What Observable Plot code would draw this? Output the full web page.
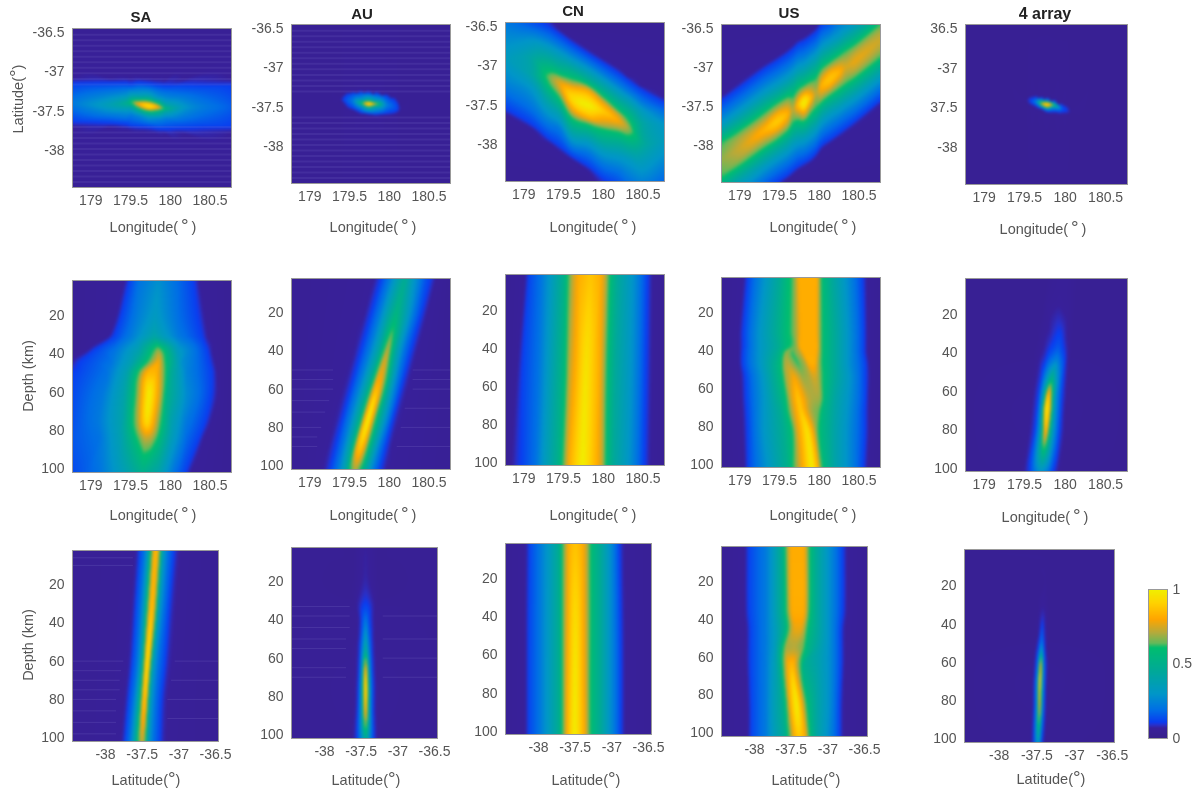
<!DOCTYPE html>
<html><head><meta charset="utf-8">
<script src="https://cdn.jsdelivr.net/npm/d3@7"></script>
<script src="https://cdn.jsdelivr.net/npm/@observablehq/plot@0.6"></script>
<style>
html,body{margin:0;background:#fff}
#fig{position:relative;width:1201px;height:794px;overflow:hidden;font-family:"Liberation Sans",sans-serif;color:#555;filter:blur(.45px)}
.t{position:absolute;transform:translate(-50%,-50%);white-space:nowrap;line-height:1}
.p{position:absolute}
</style></head><body><div id="fig"></div>
<script>
// colour bar
const cbStops=[0,.07,.09,.11,.19,.30,.46,.61,.64,.71,.80,.91,1];
const cbColors=["#37208a","#38209a","#2a30c8","#0a3cf0","#006ee6","#0096c8","#00aa96","#00be6e","#64b95a","#b4aa3c","#ffa500","#ffd200","#f0f000"];

// Every scan: [fixed coordinate, position, value, position, value, ...]
// Row 1: columns at a longitude, positions are latitudes
const saLatLon=[
[178.77,-37.09,.07,-37.16,.12,-37.4,.22,-37.62,.12,-37.69,.07],
[179.2,-37.09,.07,-37.16,.13,-37.3,.25,-37.42,.36,-37.52,.25,-37.63,.13,-37.7,.07],
[179.45,-37.09,.07,-37.16,.13,-37.3,.3,-37.4,.5,-37.5,.3,-37.65,.13,-37.72,.07],
[179.5,-37.1,.07,-37.17,.13,-37.3,.35,-37.39,.6,-37.45,.4,-37.55,.22,-37.67,.13,-37.73,.07],
[179.6,-37.09,.07,-37.16,.14,-37.3,.35,-37.37,.62,-37.4,.82,-37.44,.7,-37.48,.5,-37.56,.25,-37.68,.13,-37.74,.07],
[179.73,-37.1,.07,-37.17,.14,-37.3,.35,-37.37,.6,-37.4,.82,-37.43,.98,-37.47,.82,-37.5,.6,-37.58,.3,-37.69,.13,-37.75,.07],
[179.85,-37.11,.07,-37.18,.13,-37.33,.3,-37.41,.6,-37.44,.8,-37.47,.72,-37.5,.55,-37.6,.25,-37.71,.13,-37.77,.07],
[179.95,-37.11,.07,-37.18,.12,-37.35,.28,-37.44,.45,-37.47,.55,-37.5,.42,-37.6,.22,-37.72,.12,-37.78,.07],
[180.2,-37.1,.07,-37.16,.11,-37.45,.3,-37.72,.11,-37.78,.07],
[180.77,-37.11,.07,-37.17,.11,-37.45,.16,-37.7,.11,-37.76,.07]];
const auLatLon=[
[178.77],
[179.38,-37.39,.05,-37.4,.06,-37.41,.05],
[179.43,-37.35,.06,-37.37,.11,-37.4,.13,-37.43,.11,-37.45,.06],
[179.48,-37.31,.06,-37.33,.11,-37.41,.17,-37.49,.11,-37.51,.06],
[179.55,-37.3,.06,-37.32,.12,-37.42,.25,-37.52,.12,-37.54,.06],
[179.65,-37.29,.06,-37.31,.12,-37.4,.3,-37.45,.6,-37.49,.3,-37.57,.12,-37.59,.06],
[179.74,-37.29,.06,-37.32,.13,-37.41,.45,-37.44,.8,-37.46,1,-37.48,.8,-37.5,.5,-37.58,.13,-37.6,.06],
[179.83,-37.3,.06,-37.33,.13,-37.43,.4,-37.46,.75,-37.49,.4,-37.59,.13,-37.61,.06],
[179.95,-37.33,.06,-37.35,.12,-37.47,.28,-37.58,.12,-37.6,.06],
[180.05,-37.37,.06,-37.39,.11,-37.49,.17,-37.57,.11,-37.59,.06],
[180.1,-37.42,.06,-37.44,.11,-37.5,.13,-37.55,.11,-37.57,.06],
[180.15,-37.5,.05,-37.51,.06,-37.52,.05],
[180.77]];
const cnLatLon=[
[178.77,-36.45,.22,-36.9,.33,-37.2,.25,-37.55,.11,-37.6,.07],
[179.1,-36.45,.14,-36.55,.2,-36.68,.3,-36.9,.42,-37.1,.42,-37.3,.3,-37.55,.2,-37.75,.11,-37.79,.07],
[179.3,-36.45,.09,-36.5,.12,-36.63,.2,-36.76,.32,-36.93,.47,-37.07,.6,-37.14,.64,-37.22,.6,-37.38,.46,-37.55,.33,-37.75,.2,-37.92,.11,-37.96,.07],
[179.45,-36.55,.07,-36.59,.11,-36.72,.2,-36.84,.32,-37,.47,-37.12,.62,-37.17,.72,-37.23,.78,-37.32,.72,-37.4,.62,-37.6,.4,-37.8,.22,-38.03,.11,-38.07,.07],
[179.6,-36.66,.07,-36.7,.11,-36.82,.2,-36.93,.32,-37.05,.47,-37.17,.62,-37.23,.72,-37.28,.82,-37.35,.9,-37.42,.93,-37.5,.85,-37.59,.72,-37.65,.62,-37.78,.47,-37.92,.32,-38.04,.2,-38.15,.11,-38.18,.07],
[179.81,-36.8,.07,-36.84,.11,-36.95,.2,-37.05,.32,-37.17,.47,-37.25,.62,-37.28,.72,-37.33,.82,-37.4,.9,-37.5,1,-37.6,.9,-37.66,.82,-37.7,.72,-37.74,.62,-37.85,.47,-37.98,.32,-38.12,.2,-38.28,.11,-38.32,.07],
[180,-36.92,.07,-36.96,.11,-37.08,.2,-37.18,.32,-37.3,.47,-37.4,.62,-37.44,.72,-37.5,.82,-37.58,.9,-37.66,.82,-37.75,.72,-37.8,.62,-37.95,.47,-38.1,.32,-38.27,.2,-38.44,.11,-38.47,.09],
[180.2,-37.05,.07,-37.09,.11,-37.22,.2,-37.33,.32,-37.46,.47,-37.58,.62,-37.62,.72,-37.7,.8,-37.78,.72,-37.84,.62,-37.98,.47,-38.15,.32,-38.35,.2,-38.47,.15],
[180.33,-37.15,.07,-37.19,.11,-37.32,.2,-37.42,.32,-37.56,.47,-37.72,.62,-37.8,.68,-37.88,.62,-38.03,.47,-38.2,.32,-38.47,.2],
[180.5,-37.27,.07,-37.31,.11,-37.45,.2,-37.57,.32,-37.73,.42,-37.98,.46,-38.18,.36,-38.47,.24],
[180.77,-37.42,.07,-37.46,.11,-37.6,.2,-37.75,.3,-37.95,.33,-38.15,.28,-38.47,.17]];
const usLatLon=[
[178.77,-37.38,.07,-37.42,.11,-37.58,.2,-37.73,.32,-37.85,.47,-37.96,.62,-38.18,.68,-38.4,.62,-38.53,.47,-38.65,.32],
[179,-37.2,.07,-37.25,.11,-37.41,.2,-37.56,.32,-37.7,.47,-37.81,.62,-37.9,.7,-38.03,.74,-38.16,.7,-38.25,.62,-38.36,.47,-38.5,.32],
[179.3,-36.98,.07,-37.02,.11,-37.18,.2,-37.33,.32,-37.47,.47,-37.59,.62,-37.68,.72,-37.76,.8,-37.81,.84,-37.86,.8,-37.94,.72,-38.03,.62,-38.14,.47,-38.28,.32,-38.44,.2,-38.58,.11],
[179.47,-36.87,.07,-36.91,.11,-37.07,.2,-37.22,.32,-37.36,.47,-37.46,.62,-37.54,.72,-37.6,.82,-37.69,.9,-37.78,.82,-37.84,.72,-37.92,.62,-38.02,.47,-38.16,.32,-38.31,.2,-38.47,.11,-38.5,.07],
[179.6,-36.78,.07,-36.82,.11,-36.98,.2,-37.13,.32,-37.27,.47,-37.38,.62,-37.47,.72,-37.55,.8,-37.6,.84,-37.65,.8,-37.73,.72,-37.81,.62,-37.92,.47,-38.07,.32,-38.22,.2,-38.38,.11,-38.42,.07],
[179.67,-36.72,.07,-36.76,.11,-36.92,.2,-37.07,.32,-37.22,.47,-37.38,.62,-37.47,.68,-37.54,.72,-37.6,.68,-37.7,.62,-37.85,.47,-38,.32,-38.16,.2,-38.32,.11,-38.36,.07],
[179.73,-36.66,.07,-36.7,.11,-36.86,.2,-37.01,.32,-37.15,.47,-37.29,.62,-37.37,.72,-37.44,.82,-37.48,.86,-37.52,.82,-37.59,.72,-37.67,.62,-37.81,.47,-37.96,.32,-38.11,.2,-38.27,.11,-38.31,.07],
[179.81,-36.62,.07,-36.66,.11,-36.82,.2,-36.97,.32,-37.11,.47,-37.23,.62,-37.29,.72,-37.34,.82,-37.38,.92,-37.45,1,-37.52,.92,-37.56,.82,-37.62,.72,-37.68,.62,-37.79,.47,-37.93,.32,-38.08,.2,-38.22,.11,-38.26,.07],
[179.89,-36.56,.07,-36.6,.11,-36.76,.2,-36.9,.32,-37.05,.47,-37.18,.62,-37.27,.72,-37.35,.82,-37.39,.86,-37.43,.82,-37.5,.72,-37.59,.62,-37.72,.47,-37.87,.32,-38.02,.2,-38.17,.11,-38.21,.07],
[179.96,-36.5,.07,-36.54,.11,-36.7,.2,-36.84,.32,-36.99,.47,-37.14,.62,-37.26,.68,-37.33,.72,-37.4,.68,-37.51,.62,-37.65,.47,-37.8,.32,-37.95,.2,-38.1,.11,-38.14,.07],
[180.03,-36.4,.07,-36.44,.11,-36.6,.2,-36.75,.32,-36.89,.47,-37.02,.62,-37.1,.72,-37.18,.8,-37.23,.84,-37.28,.8,-37.36,.72,-37.44,.62,-37.55,.47,-37.7,.32,-37.85,.2,-38,.11,-38.04,.07],
[180.14,-36.32,.07,-36.36,.11,-36.52,.2,-36.67,.32,-36.81,.47,-36.93,.62,-37,.72,-37.06,.82,-37.14,.88,-37.22,.82,-37.28,.72,-37.35,.62,-37.46,.47,-37.6,.32,-37.76,.2,-37.92,.11,-37.96,.07],
[180.25,-36.2,.07,-36.4,.2,-36.6,.32,-36.73,.47,-36.85,.62,-36.94,.72,-37.01,.8,-37.06,.84,-37.11,.8,-37.18,.72,-37.27,.62,-37.39,.47,-37.53,.32,-37.68,.2,-37.84,.11,-37.88,.07],
[180.33,-36.34,.2,-36.53,.32,-36.67,.47,-36.79,.62,-36.89,.7,-37,.76,-37.11,.7,-37.21,.62,-37.33,.47,-37.47,.32,-37.62,.2,-37.78,.11,-37.82,.07],
[180.46,-36.25,.2,-36.43,.32,-36.58,.47,-36.7,.62,-36.8,.72,-36.91,.78,-37.02,.72,-37.12,.62,-37.24,.47,-37.38,.32,-37.53,.2,-37.68,.11,-37.72,.07],
[180.77,-36,.2,-36.2,.32,-36.33,.47,-36.44,.62,-36.54,.7,-36.65,.74,-36.76,.7,-36.87,.62,-36.99,.47,-37.13,.32,-37.27,.2,-37.42,.11,-37.46,.07]];
const allLatLon=[
[178.77],
[179.5,-37.39,.045,-37.4,.055,-37.41,.045],
[179.56,-37.36,.05,-37.38,.09,-37.41,.11,-37.44,.09,-37.46,.05],
[179.65,-37.34,.05,-37.37,.12,-37.43,.3,-37.48,.12,-37.51,.05],
[179.72,-37.35,.05,-37.39,.14,-37.43,.6,-37.455,.85,-37.48,.45,-37.52,.1,-37.54,.05],
[179.78,-37.37,.05,-37.41,.25,-37.44,.8,-37.465,.95,-37.49,.7,-37.53,.2,-37.57,.05],
[179.86,-37.39,.05,-37.43,.2,-37.47,.65,-37.495,.3,-37.54,.13,-37.58,.05],
[179.95,-37.43,.05,-37.47,.13,-37.51,.2,-37.55,.12,-37.59,.05],
[180.03,-37.48,.05,-37.5,.09,-37.53,.1,-37.56,.09,-37.58,.05],
[180.09,-37.54,.045,-37.55,.055,-37.56,.045],
[180.77]];

// Row 2: rows at a depth, positions are longitudes
const saDepthLon=[
[1.8,179.44,.07,179.48,.11,179.6,.2,179.85,.28,180.05,.2,180.3,.11,180.35,.07],
[30,179.25,.07,179.29,.11,179.5,.22,179.8,.4,180.1,.22,180.4,.11,180.46,.07],
[38,178.98,.07,179.03,.11,179.3,.2,179.6,.38,179.85,.68,180.1,.32,180.47,.11,180.52,.07],
[44,178.77,.07,178.86,.11,179.25,.2,179.52,.38,179.72,.62,179.85,.8,179.93,.62,180.15,.28,180.5,.11,180.55,.07],
[50,178.77,.11,179.2,.2,179.45,.38,179.6,.62,179.66,.75,179.72,.85,179.82,.85,179.9,.7,180,.48,180.2,.25,180.53,.11,180.58,.07],
[62,178.77,.13,179.15,.22,179.42,.4,179.56,.62,179.62,.75,179.68,.9,179.73,1,179.79,.9,179.88,.72,179.96,.5,180.2,.27,180.52,.11,180.58,.07],
[75,178.77,.14,179.1,.22,179.4,.4,179.54,.62,179.6,.72,179.66,.88,179.71,.95,179.77,.85,179.85,.68,180,.4,180.2,.22,180.45,.11,180.5,.07],
[85,178.77,.15,179.1,.2,179.38,.38,179.58,.6,179.68,.72,179.76,.7,179.85,.58,180,.36,180.2,.18,180.36,.11,180.4,.07],
[102,178.77,.13,179.1,.2,179.4,.35,179.65,.5,179.85,.4,180.05,.2,180.2,.11,180.24,.07]];
const auDepthLon=[
[2.2,179.82,.07,179.89,.11,180,.22,180.13,.4,180.2,.48,180.3,.32,180.45,.15,180.52,.11,180.58,.07],
[20,179.7,.07,179.77,.11,179.88,.22,180,.42,180.09,.55,180.18,.42,180.32,.2,180.41,.11,180.47,.07],
[38,179.58,.07,179.65,.11,179.76,.22,179.88,.42,179.94,.6,179.99,.72,180.03,.6,180.1,.4,180.2,.2,180.29,.11,180.35,.07],
[55,179.47,.07,179.54,.11,179.65,.24,179.76,.45,179.81,.62,179.85,.8,179.9,.8,179.96,.62,180.02,.42,180.1,.22,180.18,.11,180.24,.07],
[75,179.34,.07,179.41,.11,179.52,.25,179.62,.47,179.66,.62,179.69,.8,179.74,1,179.79,.8,179.83,.62,179.89,.45,179.98,.24,180.05,.11,180.11,.07],
[90,179.24,.07,179.32,.11,179.42,.22,179.52,.45,179.56,.62,179.59,.8,179.64,.9,179.69,.78,179.73,.62,179.8,.42,179.88,.22,179.96,.11,180.02,.07],
[102,179.18,.07,179.25,.11,179.36,.22,179.46,.42,179.5,.6,179.57,.72,179.64,.6,179.72,.4,179.8,.22,179.89,.11,179.95,.07]];
const cnDepthLon=[
[1,179.03,.07,179.06,.12,179.21,.2,179.34,.32,179.5,.5,179.55,.6,179.61,.72,179.69,.82,179.84,.88,179.97,.82,180.03,.72,180.08,.6,180.18,.45,180.39,.28,180.55,.12,180.61,.07],
[50,178.93,.07,178.99,.12,179.18,.2,179.3,.32,179.46,.5,179.53,.6,179.57,.72,179.65,.82,179.78,.97,179.95,.82,180,.72,180.05,.6,180.15,.45,180.37,.28,180.53,.12,180.6,.07],
[101.6,178.85,.07,178.98,.12,179.15,.2,179.25,.32,179.43,.5,179.48,.6,179.53,.72,179.57,.82,179.74,1,179.92,.82,179.99,.72,180.03,.6,180.13,.45,180.34,.28,180.51,.12,180.58,.07]];
const usDepthLon=[
[1.7,179.06,.07,179.1,.12,179.34,.32,179.5,.46,179.62,.6,179.65,.62,179.67,.64,179.68,.66,179.71,.72,179.74,.82,179.97,.82,180,.7,180.03,.6,180.16,.45,180.35,.28,180.54,.12,180.59,.07],
[30,179,.07,179.05,.12,179.25,.3,179.45,.46,179.6,.6,179.64,.62,179.66,.64,179.68,.66,179.72,.72,179.77,.82,179.96,.82,180,.7,180.04,.6,180.2,.45,180.38,.28,180.56,.12,180.6,.07],
[38,179,.07,179.05,.12,179.25,.3,179.47,.46,179.6,.6,179.64,.62,179.67,.64,179.7,.66,179.73,.72,179.76,.82,179.97,.82,180,.7,180.04,.6,180.2,.45,180.38,.28,180.56,.12,180.6,.07],
[41,179,.07,179.04,.12,179.25,.3,179.47,.48,179.55,.6,179.57,.66,179.6,.68,179.66,.62,179.76,.72,179.8,.82,179.96,.82,180,.7,180.04,.6,180.2,.45,180.38,.28,180.56,.12,180.6,.07],
[47,179,.07,179.04,.12,179.25,.3,179.45,.5,179.53,.6,179.56,.7,179.62,.72,179.73,.62,179.82,.7,179.87,.82,179.95,.82,179.98,.72,180.04,.6,180.2,.45,180.38,.28,180.58,.12,180.62,.07],
[54,179.02,.07,179.07,.12,179.28,.3,179.46,.5,179.54,.6,179.58,.7,179.68,.8,179.79,.68,179.87,.7,179.92,.75,179.96,.75,179.99,.7,180.05,.6,180.2,.45,180.4,.28,180.58,.12,180.63,.07],
[65,179.03,.07,179.08,.12,179.3,.3,179.5,.5,179.58,.6,179.63,.72,179.73,.88,179.86,.72,179.92,.7,179.97,.7,180,.69,180.03,.66,180.05,.58,180.2,.42,180.4,.27,180.58,.12,180.62,.07],
[72,179.04,.07,179.09,.12,179.3,.3,179.52,.48,179.6,.6,179.67,.74,179.77,.9,179.88,.72,179.94,.67,179.97,.66,179.99,.65,180.01,.62,180.04,.56,180.2,.41,180.4,.26,180.57,.12,180.62,.07],
[83,179.05,.07,179.1,.12,179.3,.3,179.55,.48,179.66,.6,179.72,.75,179.85,.97,179.93,.78,179.96,.68,179.97,.66,179.98,.64,180,.6,180.03,.56,180.2,.4,180.4,.25,180.57,.12,180.62,.07],
[101.7,179.07,.07,179.1,.12,179.35,.3,179.6,.5,179.66,.6,179.76,.76,179.91,1,179.99,.8,180.01,.68,180.02,.66,180.03,.64,180.04,.6,180.06,.56,180.2,.4,180.4,.25,180.55,.12,180.6,.07]];
const allDepthLon=[
[1.3,179.78,.045,179.85,.055,179.92,.06,180.05,.06,180.15,.045],
[15,179.72,.045,179.78,.06,179.92,.07,180.05,.06,180.13,.045],
[30,179.65,.045,179.72,.06,179.82,.08,179.93,.12,180.02,.07,180.1,.045],
[42,179.6,.045,179.66,.06,179.75,.09,179.8,.15,179.9,.22,179.98,.13,180.03,.07,180.08,.045],
[52,179.57,.045,179.63,.06,179.7,.1,179.78,.3,179.84,.5,179.9,.3,179.98,.11,180.03,.06,180.07,.045],
[62,179.53,.045,179.6,.06,179.67,.11,179.72,.3,179.76,.6,179.775,.8,179.79,.88,179.81,.8,179.84,.6,179.88,.3,179.96,.11,180.03,.05],
[70,179.52,.045,179.58,.06,179.65,.11,179.7,.3,179.73,.6,179.75,.85,179.775,1,179.8,.85,179.83,.6,179.87,.3,179.95,.11,180.01,.05],
[82,179.48,.045,179.55,.06,179.62,.11,179.68,.3,179.72,.58,179.74,.74,179.76,.82,179.78,.7,179.81,.5,179.86,.27,179.93,.11,180,.05],
[101.6,179.42,.045,179.48,.06,179.55,.1,179.62,.2,179.7,.3,179.78,.22,179.85,.11,179.92,.06,179.99,.045]];

// Row 3: rows at a depth, positions are latitudes
const saDepthLat=[
[2.2,-37.62,.06,-37.56,.08,-37.54,.12,-37.47,.2,-37.42,.35,-37.38,.6,-37.35,.75,-37.33,.85,-37.3,.85,-37.27,.7,-37.25,.6,-37.22,.35,-37.15,.2,-37.07,.12,-37.03,.08,-36.95,.06],
[30,-37.67,.06,-37.61,.08,-37.59,.12,-37.52,.2,-37.47,.35,-37.43,.6,-37.4,.75,-37.38,.86,-37.35,.86,-37.32,.7,-37.3,.6,-37.27,.35,-37.2,.2,-37.13,.12,-37.09,.08,-37,.06],
[60,-37.72,.06,-37.66,.08,-37.64,.12,-37.57,.2,-37.52,.35,-37.48,.6,-37.46,.78,-37.43,1,-37.4,.8,-37.38,.6,-37.35,.35,-37.28,.2,-37.19,.12,-37.15,.08,-37.05,.06],
[80,-37.77,.06,-37.71,.08,-37.69,.12,-37.62,.2,-37.57,.35,-37.52,.6,-37.49,.8,-37.47,.9,-37.44,.8,-37.42,.6,-37.39,.35,-37.32,.2,-37.24,.12,-37.2,.08,-37.12,.06],
[102,-37.82,.06,-37.76,.08,-37.74,.12,-37.67,.2,-37.62,.35,-37.57,.55,-37.54,.68,-37.5,.74,-37.47,.68,-37.45,.55,-37.42,.35,-37.35,.2,-37.26,.12,-37.22,.08,-37.13,.06]];
const auDepthLat=[
[2.2,-37.6,.045,-37.53,.06,-37.44,.07,-37.36,.06,-37.28,.045],
[28,-37.62,.045,-37.54,.07,-37.44,.1,-37.34,.07,-37.26,.045],
[40,-37.63,.05,-37.53,.07,-37.5,.11,-37.44,.22,-37.38,.11,-37.33,.07,-37.25,.05],
[55,-37.65,.05,-37.55,.07,-37.52,.11,-37.47,.3,-37.44,.5,-37.41,.3,-37.36,.11,-37.32,.07,-37.24,.05],
[65,-37.66,.05,-37.56,.07,-37.53,.11,-37.49,.3,-37.465,.6,-37.45,.75,-37.44,.85,-37.43,.75,-37.415,.6,-37.39,.3,-37.35,.11,-37.31,.07,-37.23,.05],
[75,-37.67,.05,-37.57,.07,-37.54,.11,-37.5,.3,-37.47,.65,-37.455,.88,-37.44,.98,-37.425,.88,-37.41,.65,-37.38,.3,-37.34,.11,-37.3,.07,-37.22,.05],
[88,-37.68,.05,-37.58,.07,-37.55,.11,-37.5,.3,-37.47,.6,-37.455,.75,-37.44,.85,-37.425,.75,-37.41,.6,-37.38,.3,-37.34,.11,-37.3,.07,-37.2,.05],
[102,-37.7,.05,-37.6,.07,-37.56,.11,-37.5,.25,-37.46,.42,-37.44,.5,-37.42,.42,-37.38,.25,-37.33,.11,-37.29,.07,-37.2,.05]];
const cnDepthLat=[
[1.7,-38.16,.07,-38.13,.12,-38,.2,-37.85,.33,-37.72,.48,-37.68,.6,-37.63,.72,-37.59,.82,-37.5,.88,-37.4,.82,-37.34,.72,-37.29,.6,-37.15,.45,-37.02,.28,-36.9,.12,-36.85,.07],
[60,-38.17,.07,-38.14,.12,-38,.2,-37.86,.33,-37.72,.48,-37.68,.6,-37.64,.72,-37.6,.82,-37.5,.98,-37.39,.82,-37.34,.72,-37.29,.6,-37.15,.45,-37.02,.28,-36.88,.12,-36.83,.07],
[101.6,-38.17,.07,-38.14,.12,-38,.2,-37.86,.33,-37.72,.48,-37.68,.6,-37.64,.72,-37.61,.82,-37.51,1,-37.38,.82,-37.34,.72,-37.29,.6,-37.15,.45,-37.02,.28,-36.88,.12,-36.83,.07]];
const usDepthLat=[
[1.6,-38.12,.07,-38.08,.12,-37.85,.22,-37.75,.32,-37.62,.5,-37.58,.6,-37.55,.72,-37.5,.82,-37.33,.82,-37.29,.72,-37.25,.6,-37.15,.45,-36.98,.28,-36.8,.12,-36.75,.07],
[35,-38.12,.07,-38.08,.12,-37.85,.22,-37.75,.32,-37.62,.5,-37.57,.6,-37.53,.72,-37.49,.82,-37.33,.82,-37.29,.72,-37.25,.6,-37.15,.45,-36.98,.28,-36.8,.12,-36.75,.07],
[45,-38.1,.07,-38.06,.12,-37.85,.22,-37.72,.34,-37.6,.5,-37.55,.6,-37.5,.72,-37.46,.78,-37.36,.78,-37.31,.68,-37.27,.58,-37.15,.45,-36.98,.28,-36.82,.12,-36.78,.07],
[55,-38.1,.07,-38.06,.12,-37.85,.22,-37.72,.34,-37.65,.5,-37.61,.6,-37.57,.7,-37.45,.72,-37.34,.66,-37.3,.56,-37.15,.42,-36.98,.28,-36.82,.12,-36.78,.07],
[64,-38.1,.07,-38.06,.12,-37.85,.22,-37.72,.36,-37.65,.5,-37.62,.6,-37.58,.72,-37.54,.82,-37.47,.85,-37.42,.72,-37.37,.62,-37.33,.5,-37.15,.4,-36.98,.28,-36.82,.12,-36.78,.07],
[85,-38.08,.07,-38.05,.12,-37.85,.22,-37.75,.34,-37.62,.48,-37.57,.6,-37.54,.72,-37.5,.85,-37.43,1,-37.37,.85,-37.33,.72,-37.28,.58,-37.15,.42,-36.98,.28,-36.84,.12,-36.8,.07],
[102,-38.08,.07,-38.05,.12,-37.85,.22,-37.72,.36,-37.58,.48,-37.54,.6,-37.49,.72,-37.46,.82,-37.39,.9,-37.32,.82,-37.28,.72,-37.25,.6,-37.15,.42,-37,.28,-36.84,.12,-36.8,.07]];
const allDepthLat=[
[1],
[7,-37.42,.045,-37.41,.05,-37.4,.045],
[12,-37.46,.045,-37.42,.06,-37.38,.045],
[30,-37.49,.045,-37.46,.06,-37.42,.07,-37.38,.06,-37.34,.045],
[42,-37.52,.045,-37.48,.06,-37.46,.08,-37.43,.14,-37.4,.08,-37.37,.06,-37.33,.045],
[52,-37.53,.045,-37.5,.08,-37.47,.14,-37.44,.32,-37.41,.14,-37.38,.07,-37.34,.045],
[62,-37.54,.05,-37.52,.1,-37.49,.2,-37.475,.4,-37.46,.72,-37.45,.85,-37.44,.72,-37.425,.4,-37.41,.2,-37.38,.1,-37.35,.05],
[71,-37.55,.05,-37.535,.1,-37.51,.2,-37.485,.42,-37.47,.8,-37.46,1,-37.45,.8,-37.435,.42,-37.41,.2,-37.385,.1,-37.37,.05],
[84,-37.56,.05,-37.54,.1,-37.515,.2,-37.49,.4,-37.475,.72,-37.465,.82,-37.455,.7,-37.44,.38,-37.42,.2,-37.395,.1,-37.375,.05],
[102,-37.58,.045,-37.55,.1,-37.52,.2,-37.5,.3,-37.48,.33,-37.46,.25,-37.44,.12,-37.41,.07,-37.38,.045]];

// faint noise stripes: latitudes (row 1) and [depth, from, to] (rows 2, 3)
const stripeLats=[-36.53,-36.6,-36.67,-36.74,-36.81,-36.88,-36.95,-37.02,-37.09,-37.16,-37.7,-37.77,-37.84,-37.91,-37.98,-38.05,-38.12,-38.19,-38.26,-38.33,-38.4];
const auStripes=[[50,178.77,179.3],[55,178.77,179.3],[60,178.77,179.3],[66,178.77,179.25],[72,178.77,179.2],[80,178.77,179.15],[85,178.77,179.1],[90,178.77,179.1],[50,180.3,180.77],[55,180.3,180.77],[60,180.3,180.77],[70,180.2,180.77],[80,180.15,180.77],[90,180.1,180.77]];
const saLatStripes=[[60,-38.45,-37.75],[65,-38.45,-37.78],[70,-38.45,-37.8],[75,-38.45,-37.8],[80,-38.45,-37.85],[86,-38.45,-37.85],[92,-38.45,-37.85],[98,-38.45,-37.85],[6,-38.45,-37.62],[10,-38.45,-37.62],[60,-37.05,-36.46],[70,-37.1,-36.46],[80,-37.15,-36.46],[90,-37.15,-36.46]];
const auLatStripes=[[33,-38.45,-37.65],[38,-38.45,-37.65],[44,-38.45,-37.65],[50,-38.45,-37.7],[55,-38.45,-37.7],[65,-38.45,-37.7],[70,-38.45,-37.7],[60,-37.2,-36.46],[70,-37.2,-36.46],[38,-37.2,-36.46],[50,-37.2,-36.46]];

const lonTicks=[179,179.5,180,180.5], latTicks=[-36.5,-37,-37.5,-38], latXTicks=[-38,-37.5,-37,-36.5], depthTicks=[20,40,60,80,100];
const lonD=[178.77,180.77], latD=[-38.47,-36.45], latXD=[-38.45,-36.46];

const panels=[
 {s:saLatLon,o:"y",bg:.05,b:[72,28,159,159],xd:lonD,yd:latD,xt:lonTicks,yt:latTicks,stripes:"s"},
 {s:auLatLon,o:"y",bg:.05,b:[291,24,159,159],xd:lonD,yd:latD,xt:lonTicks,yt:latTicks,stripes:"a"},
 {s:cnLatLon,o:"y",bg:.05,b:[505,22,159,159],xd:lonD,yd:latD,xt:lonTicks,yt:latTicks},
 {s:usLatLon,o:"y",bg:.05,b:[721,24,159,158],xd:lonD,yd:latD,xt:lonTicks,yt:latTicks},
 {s:allLatLon,o:"y",bg:.045,b:[965,24,162,160],xd:lonD,yd:latD,xt:lonTicks,yt:latTicks,yf:{"-36.5":"36.5","-37.5":"37.5"}},
 {s:saDepthLon,o:"x",bg:.05,b:[72,280,159,192],xd:lonD,yd:[102,1.8],xt:lonTicks,yt:depthTicks},
 {s:auDepthLon,o:"x",bg:.05,b:[291,278,159,191],xd:lonD,yd:[102,2.2],xt:lonTicks,yt:depthTicks,lines:auStripes},
 {s:cnDepthLon,o:"x",bg:.05,b:[505,274,159,191],xd:lonD,yd:[101.6,1],xt:lonTicks,yt:depthTicks},
 {s:usDepthLon,o:"x",bg:.05,mode:"index",b:[721,277,159,190],xd:lonD,yd:[101.7,1.7],xt:lonTicks,yt:depthTicks},
 {s:allDepthLon,o:"x",bg:.045,b:[965,278,162,193],xd:lonD,yd:[101.6,1.3],xt:lonTicks,yt:depthTicks},
 {s:saDepthLat,o:"x",bg:.05,b:[72,550,146,191],xd:latXD,yd:[102,2.2],xt:latXTicks,yt:depthTicks,lines:saLatStripes},
 {s:auDepthLat,o:"x",bg:.05,b:[291,547,146,191],xd:latXD,yd:[102,2.2],xt:latXTicks,yt:depthTicks,lines:auLatStripes},
 {s:cnDepthLat,o:"x",bg:.055,b:[505,543,146,191],xd:latXD,yd:[101.6,1.7],xt:latXTicks,yt:depthTicks},
 {s:usDepthLat,o:"x",bg:.05,mode:"plain",b:[721,546,146,190],xd:latXD,yd:[102,1.6],xt:latXTicks,yt:depthTicks},
 {s:allDepthLat,o:"x",bg:.045,b:[964,549,150,193],xd:[-38.46,-36.47],yd:[102,1],xt:latXTicks,yt:depthTicks}
];

const fig=document.getElementById("fig");
const ML=48,MR=26,MT=3,MB=28;
function points(p){
  const out=[],dom=p.o==="y"?p.yd:p.xd,lo=Math.min(...dom),hi=Math.max(...dom);
  for(const r of p.s){
    const c=r[0],q=[];
    for(let i=1;i<r.length;i+=2)q.push([r[i],r[i+1]]);
    const ps=q.map(d=>d[0]);
    if(!ps.length||Math.min(...ps)>lo)q.push([lo,p.bg]);
    if(!ps.length||Math.max(...ps)<hi)q.push([hi,p.bg]);
    for(const [a,v] of q)out.push(p.o==="y"?{x:c,y:a,v}:{x:a,y:c,v});
  }
  return out;
}
// Raster interpolator: walks between neighbouring scan lines, following each colour level across them.
function resample(p,v,mode,n){
  const segs=[];
  if(mode)segs.push([0,p.length-1]);
  else{const m=d3.maxIndex(v);segs.push([0,m],[m,p.length-1]);}
  const P=[],V=[];
  const per=Math.floor(n/segs.length);
  for(const [a,b] of segs){
    const s=[0];
    for(let i=a+1;i<=b;i++)s.push(s[s.length-1]+(mode==="index"?1:Math.abs(v[i]-v[i-1])+1e-5*Math.abs(p[i]-p[i-1])));
    const tot=s[s.length-1]||1;let k=0;
    for(let j=0;j<per;j++){
      const u=tot*j/(per-1);
      while(k<s.length-2&&s[k+1]<u)k++;
      if(a===b){P.push(p[a]);V.push(v[a]);continue;}
      const d=s[k+1]-s[k]||1,t=Math.min(1,(u-s[k])/d);
      P.push(p[a+k]+(p[a+k+1]-p[a+k])*t);V.push(v[a+k]+(v[a+k+1]-v[a+k])*t);
    }
  }
  return {P,V};
}
function follow(orient,mode){
  return (index,w,h,X,Y,V)=>{
    const C=orient==="x"?Y:X,Q=orient==="x"?X:Y,nC=orient==="x"?h:w,nQ=orient==="x"?w:h;
    const g=d3.groups(Array.from(index),i=>C[i]).map(([c,ii])=>{
      ii.sort((a,b)=>Q[a]-Q[b]);
      return {c,...resample(ii.map(i=>Q[i]),ii.map(i=>V[i]),mode,240)};
    }).sort((a,b)=>a.c-b.c);
    const n=g[0].P.length,W=new Float64Array(w*h),lineP=new Float64Array(n),lineV=new Float64Array(n);
    const slope=(k,f)=>{const a=g[Math.max(0,k-1)],b=g[Math.min(g.length-1,k+1)];return (f(b)-f(a))/(b.c-a.c);};
    const low=d3.min(g,d=>d3.min(d.V));
    for(let c=0;c<nC;c++){
      const pc=c+.5;let k=0;
      while(k<g.length-2&&g[k+1].c<pc)k++;
      const A=g[k],B=g[k+1],dc=B.c-A.c,t=Math.max(0,Math.min(1,(pc-A.c)/dc));
      const h00=2*t*t*t-3*t*t+1,h10=t*t*t-2*t*t+t,h01=-2*t*t*t+3*t*t,h11=t*t*t-t*t;
      for(let j=0;j<n;j++){
        const mp0=slope(k,d=>d.P[j]),mp1=slope(k+1,d=>d.P[j]),mv0=slope(k,d=>d.V[j]),mv1=slope(k+1,d=>d.V[j]);
        lineP[j]=h00*A.P[j]+h10*dc*mp0+h01*B.P[j]+h11*dc*mp1;
        lineV[j]=h00*A.V[j]+h10*dc*mv0+h01*B.V[j]+h11*dc*mv1;
        if(j&&lineP[j]<lineP[j-1])lineP[j]=lineP[j-1];
      }
      let j=0;
      for(let q=0;q<nQ;q++){
        const pq=q+.5;
        while(j<n-2&&lineP[j+1]<pq)j++;
        const d=lineP[j+1]-lineP[j],u=d>0?Math.max(0,Math.min(1,(pq-lineP[j])/d)):0;
        W[orient==="x"?c*w+q:q*w+c]=Math.max(low,Math.min(1,lineV[j]+(lineV[j+1]-lineV[j])*u));
      }
    }
    return W;
  };
}
const colorOpts={type:"linear",domain:cbStops,range:cbColors,clamp:true};
const ruleStyle={stroke:"#8a80d8",strokeOpacity:.14,strokeWidth:2};
const lineStyle={stroke:"#8a80d8",strokeOpacity:.2,strokeWidth:1};
function place(svg,x,y){const d=document.createElement("div");d.className="p";d.style.left=x+"px";d.style.top=y+"px";d.append(svg);fig.append(d);}
for(const p of panels){
  const [x,y,w,h]=p.b;
  const marks=[Plot.raster(points(p),{x:"x",y:"y",fill:"v",interpolate:follow(p.o,p.mode),blur:.8})];
  if(p.stripes==="s")marks.push(Plot.ruleY(stripeLats,ruleStyle));
  if(p.stripes==="a")marks.push(Plot.ruleY(stripeLats.concat([-37.23,-37.3,-37.63]),ruleStyle));
  if(p.lines)marks.push(Plot.ruleY(p.lines,{y:d=>d[0],x1:d=>d[1],x2:d=>d[2],...lineStyle}));
  marks.push(Plot.frame({stroke:"#999",strokeWidth:1}));
  marks.push(Plot.axisX(p.xt,{tickSize:0,tickPadding:8,fontSize:14,label:null,tickFormat:d=>String(d)}));
  marks.push(Plot.axisY(p.yt,{tickSize:0,tickPadding:8,fontSize:14,label:null,tickFormat:d=>(p.yf&&p.yf[d])||String(d)}));
  const svg=Plot.plot({width:w+ML+MR,height:h+MT+MB,marginLeft:ML,marginRight:MR,marginTop:MT,marginBottom:MB,
    x:{domain:p.xd},y:{domain:p.yd},color:colorOpts,
    style:{background:"transparent",overflow:"visible",fontFamily:"'Liberation Sans',sans-serif",color:"#555"},marks});
  place(svg,x-ML,y-MT);
}
// colour bar
const bar=Plot.plot({width:19+30,height:149+6,marginLeft:0,marginRight:30,marginTop:3,marginBottom:3,
  x:{domain:[0,1],axis:null},y:{domain:[0,1]},color:colorOpts,
  style:{background:"transparent",overflow:"visible",fontFamily:"'Liberation Sans',sans-serif",color:"#555"},
  marks:[Plot.raster({fill:(a,b)=>b,x1:0,x2:1,y1:0,y2:1,width:2,height:149,imageRendering:"auto"}),
    Plot.frame({stroke:"#999"}),
    Plot.axisY([0,.5,1],{anchor:"right",tickSize:0,tickPadding:5,fontSize:14,label:null,tickFormat:d=>String(d)})]});
place(bar,1148,586);

function label(html,x,y,o={}){const d=document.createElement("div");d.className="t";d.innerHTML=html;d.style.left=x+"px";d.style.top=y+"px";
  d.style.fontSize=(o.size||14.5)+"px";if(o.bold){d.style.fontWeight="bold";d.style.color="#222";}
  if(o.rot)d.style.transform="translate(-50%,-50%) rotate(-90deg)";fig.append(d);}
const lonL='Longitude(\u2009<span style="font-size:19px;line-height:0">°</span>\u2009)';
const latL='Latitude(<span style="font-size:19px;line-height:0">°</span>)';
const titles=[["SA",141,16,15],["AU",362,13,15],["CN",573,10,15],["US",789,12,15],["4 array",1045,14,16]];
for(const [t,x,y,s] of titles)label(t,x,y,{bold:true,size:s});
for(const [x,y] of [[153,227],[373,227],[593,227],[813,227],[1043,229],[153,515],[373,515],[593,515],[813,515],[1045,517]])label(lonL,x,y);
for(const [x,y] of [[146,780],[366,780],[586,780],[806,780],[1051,779]])label(latL,x,y);
label(latL,18,99,{rot:true});
label("Depth (km)",28,376,{rot:true});
label("Depth (km)",28,645,{rot:true});
</script></body></html>
